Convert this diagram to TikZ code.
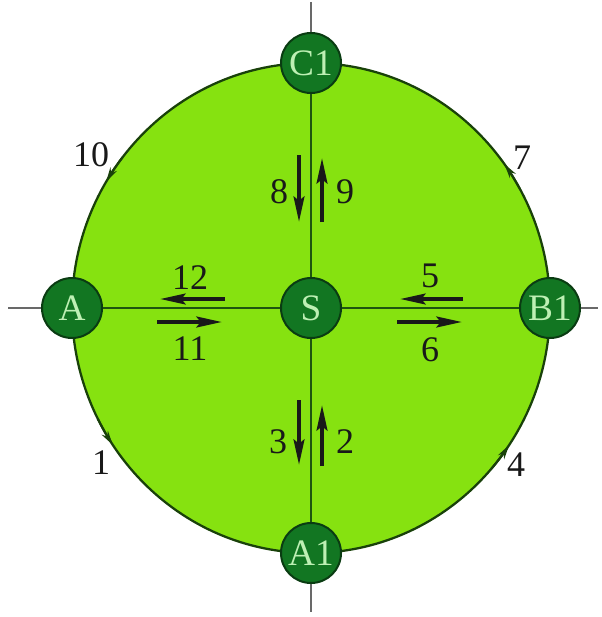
\documentclass[tikz,border=0pt]{standalone}
\usepackage{fontspec}
\setmainfont{Liberation Serif}
\usetikzlibrary{arrows.meta}

\definecolor{disc}{RGB}{134,226,16}
\definecolor{rim}{RGB}{25,65,10}
\definecolor{spoke}{RGB}{30,85,15}
\definecolor{outline}{RGB}{105,105,105}
\definecolor{hub}{RGB}{18,118,34}
\definecolor{hubedge}{RGB}{10,60,18}
\definecolor{hubtext}{RGB}{190,240,180}
\definecolor{ink}{RGB}{25,25,25}

\tikzset{every picture/.style={line width=0.75pt},
  junction/.style={circle, draw=hubedge, line width=1.5pt, fill=hub, text=hubtext, minimum size=45pt, inner sep=0pt, font=\fontsize{28}{28}\selectfont},
  numlabel/.style={text=ink, inner sep=0pt, font=\fontsize{27}{27}\selectfont},
  flow/.style={draw=black!90, line width=3pt, -{Stealth[length=19pt, width=8pt, inset=3pt]}},
  spokein/.style={draw=spoke, line width=1.9pt},
  spokeout/.style={draw=outline, line width=1.7pt},
  rimtip/.style={draw=rim, line width=1.5pt, -{Stealth[length=11pt, width=5.5pt]}}
}

\begin{document}
\begin{tikzpicture}[x=0.75pt,y=0.75pt,yscale=-1,xscale=1]
\useasboundingbox (0,0) rectangle (602,617);

%Shape: Ellipse
\coordinate (O) at (311,308);
\draw [draw=rim, line width=1.7pt, fill=disc] (O) ellipse [x radius=239, y radius=245];

% Junctions
\node [junction] (S) at (O) {S};
\node [junction] (A) at (72,308) {A};
\node [junction] (B1) at (550,308) {B1};
\node [junction] (C1) at (311,63) {C1};
\node [junction] (A1) at (311,553) {A1};

% Axis ends
\coordinate (west) at (8,308);
\coordinate (east) at (598,308);
\coordinate (north) at (311,2);
\coordinate (south) at (311,612);

%Straight Lines
\draw [spokeout] (west) -- (A);
\draw [spokein] (A) -- (S);
\draw [spokein] (S) -- (B1);
\draw [spokeout] (B1) -- (east);
\draw [spokeout] (north) -- (C1);
\draw [spokein] (C1) -- (S);
\draw [spokein] (S) -- (A1);
\draw [spokeout] (A1) -- (south);

%Curve Lines (rim tips)
\draw [rimtip] (O) ++(218:239 and 245) arc [start angle=218, end angle=211, x radius=239, y radius=245];
\draw [rimtip] (O) ++(331:239 and 245) arc [start angle=331, end angle=324, x radius=239, y radius=245];
\draw [rimtip] (O) ++(153:239 and 245) arc [start angle=153, end angle=146, x radius=239, y radius=245];
\draw [rimtip] (O) ++(41:239 and 245) arc [start angle=41, end angle=34, x radius=239, y radius=245];

% Flow ends
\coordinate (t12) at (225,299); \coordinate (h12) at (160,299);
\coordinate (t11) at (157,322); \coordinate (h11) at (222,322);
\coordinate (t5) at (463,299);  \coordinate (h5) at (400,299);
\coordinate (t6) at (397,322);  \coordinate (h6) at (462,322);
\coordinate (t8) at (299,155);  \coordinate (h8) at (299,222);
\coordinate (t9) at (322,222);  \coordinate (h9) at (322,158);
\coordinate (t3) at (299,400);  \coordinate (h3) at (299,465);
\coordinate (t2) at (322,466);  \coordinate (h2) at (322,405);

%Straight Lines (flows)
\draw [flow] (t12) -- (h12);
\draw [flow] (t11) -- (h11);
\draw [flow] (t5) -- (h5);
\draw [flow] (t6) -- (h6);
\draw [flow] (t8) -- (h8);
\draw [flow] (t9) -- (h9);
\draw [flow] (t3) -- (h3);
\draw [flow] (t2) -- (h2);

% Text Node
\node [numlabel] (l12) at (190,278) {12};
\node [numlabel] (l11) at (190,349) {11};
\node [numlabel] (l5) at (430,276) {5};
\node [numlabel] (l6) at (430,350) {6};
\node [numlabel] (l8) at (279,192) {8};
\node [numlabel] (l9) at (345,192) {9};
\node [numlabel] (l3) at (278,442) {3};
\node [numlabel] (l2) at (345,442) {2};
\node [numlabel] (l10) at (91,155) {10};
\node [numlabel] (l7) at (522,158) {7};
\node [numlabel] (l1) at (101,463) {1};
\node [numlabel] (l4) at (516,465) {4};

\end{tikzpicture}
\end{document}
